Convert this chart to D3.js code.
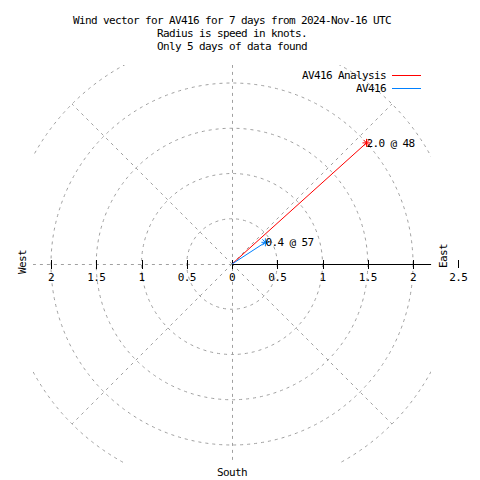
<!DOCTYPE html>
<html><head><meta charset="utf-8">
<script src="https://cdn.jsdelivr.net/npm/d3@7"></script>
<style>
html,body{margin:0;padding:0;background:#fff;}
text{font-family:"DejaVu Sans Mono",monospace;font-size:11px;letter-spacing:-0.62px;fill:#000;}
</style></head>
<body><svg id="c" width="480" height="480"></svg>
<script>
// ---- data ----
const titleLines = ["Wind vector for AV416 for 7 days from 2024-Nov-16 UTC","Radius is speed in knots.","Only 5 days of data found"];
const seriesNames = ["AV416 Analysis","AV416"];
const seriesColors = ["#ff0000","#0080ff"];
const speeds = [2.0, 0.44];      // knots
const directions = [48, 57];     // degrees (compass, toward)
const dirLabels = [48, 57];
const rGrid = [0.5, 1, 1.5, 2, 2.5];
const rTicks = [0, 0.5, 1, 1.5, 2];
const rTickLabels = ["0","0.5","1","1.5","2"];
const xRange = [-2.2, 2.2];
const rMax = 2.5;

const svg = d3.select("#c");
const cx = 232, cy = 264, unit = 90.5;
const x = d3.scaleLinear().domain(xRange).range([cx + xRange[0]*unit, cx + xRange[1]*unit]);
const y = d3.scaleLinear().domain(xRange).range([cy - xRange[0]*unit, cy - xRange[1]*unit]);
const r = d3.scaleLinear().domain([0, rMax]).range([0, rMax*unit]);

// clip to plot area
svg.append("clipPath").attr("id","pa").append("rect")
  .attr("x", x(xRange[0])).attr("y", y(xRange[1]))
  .attr("width", x(xRange[1]) - x(xRange[0])).attr("height", y(xRange[0]) - y(xRange[1]));

const grid = svg.append("g").attr("clip-path","url(#pa)")
  .attr("fill","none").attr("stroke","#a0a0a0").attr("stroke-width",1).attr("stroke-dasharray","3,4");
rGrid.forEach(v => grid.append("circle").attr("cx", x(0)).attr("cy", y(0)).attr("r", r(v)));
// radial lines
[45, 135, 225, 315].forEach(a => {
  const t = a*Math.PI/180;
  grid.append("line").attr("x1", x(0)).attr("y1", y(0))
    .attr("x2", x(rMax*Math.sin(t))).attr("y2", y(rMax*Math.cos(t)));
});
grid.append("line").attr("x1", x(0)+0.5).attr("x2", x(0)+0.5).attr("y1", y(xRange[1])).attr("y2", y(xRange[0]));
grid.append("line").attr("x1", x(xRange[0])).attr("x2", x(0)).attr("y1", y(0)+0.5).attr("y2", y(0)+0.5);

// r axis (east)
svg.append("line").attr("x1", x(0)).attr("x2", x(xRange[1])).attr("y1", y(0)+0.5).attr("y2", y(0)+0.5)
  .attr("stroke","#000").attr("stroke-width",1);
const tickG = svg.append("g").attr("stroke","#000").attr("stroke-width",1);
rTicks.forEach(v => {
  [v, -v].forEach(s => {
    const px = Math.round(x(s)) + 0.5;
    tickG.append("line").attr("x1", px).attr("x2", px).attr("y1", y(0)-4).attr("y2", y(0)+5);
  });
});
// tick labels on both sides of the centre
rTicks.forEach((v,i) => {
  svg.append("text").attr("x", x(v)).attr("y", y(0)+17).attr("text-anchor","middle").text(rTickLabels[i]);
  if (v > 0) svg.append("text").attr("x", x(-v)).attr("y", y(0)+17).attr("text-anchor","middle").text(rTickLabels[i]);
});
// rmax tick outside
const xr = Math.round(cx + r(rMax)) + 0.5;
tickG.append("line").attr("x1", xr).attr("x2", xr).attr("y1", y(0)-4).attr("y2", y(0)+4);
svg.append("text").attr("x", cx + r(rMax)).attr("y", y(0)+17).attr("text-anchor","middle").text("2.5");

// vectors
speeds.forEach((s,i) => {
  const t = directions[i]*Math.PI/180;
  const px = x(s*Math.sin(t)), py = y(s*Math.cos(t));
  svg.append("line").attr("x1", x(0)).attr("y1", y(0)).attr("x2", px).attr("y2", py)
    .attr("stroke", seriesColors[i]).attr("stroke-width",1);
  const st = svg.append("g").attr("stroke", seriesColors[i]).attr("stroke-width",1);
  const k = 4;
  st.append("line").attr("x1",px-k).attr("x2",px+k).attr("y1",py).attr("y2",py);
  st.append("line").attr("x1",px).attr("x2",px).attr("y1",py-k).attr("y2",py+k);
  st.append("line").attr("x1",px-3).attr("x2",px+3).attr("y1",py-3).attr("y2",py+3);
  st.append("line").attr("x1",px-3).attr("x2",px+3).attr("y1",py+3).attr("y2",py-3);
  svg.append("text").attr("x", px).attr("y", py+4).text(s.toFixed(1) + " @ " + dirLabels[i]);
});

// titles
titleLines.forEach((t,i) => svg.append("text").attr("x", 232).attr("y", 24 + i*13).attr("text-anchor","middle").text(t));

// legend
seriesNames.forEach((n,i) => {
  const ly = 75 + i*13;
  svg.append("text").attr("x", 386).attr("y", ly+4).attr("text-anchor","end").text(n);
  svg.append("line").attr("x1",392).attr("x2",421).attr("y1",ly+0.5).attr("y2",ly+0.5)
    .attr("stroke", seriesColors[i]).attr("stroke-width",1);
});

// compass labels
svg.append("text").attr("transform","translate(26,262) rotate(-90)").attr("text-anchor","middle").text("West");
svg.append("text").attr("transform","translate(447,256) rotate(-90)").attr("text-anchor","middle").text("East");
svg.append("text").attr("x", 232).attr("y", 476).attr("text-anchor","middle").text("South");
</script></body></html>
